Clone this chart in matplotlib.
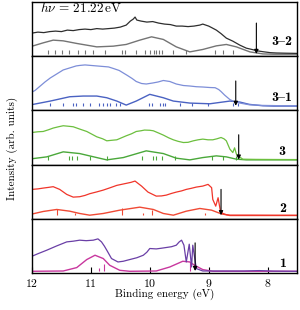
import matplotlib
matplotlib.use("Agg")
import matplotlib.pyplot as plt

plt.rcParams['font.family'] = 'serif'
plt.rcParams['font.serif'] = ['cmr10']
plt.rcParams['mathtext.fontset'] = 'cm'
plt.rcParams['axes.formatter.use_mathtext'] = True

# ---- panel 3-2 ----
e32 = [12.0, 11.9, 11.8, 11.7, 11.6, 11.5, 11.4, 11.3, 11.2, 11.1, 11.0, 10.9, 10.8, 10.7,
       10.6, 10.5, 10.4, 10.33, 10.28, 10.25, 10.22, 10.15, 10.05, 9.95, 9.85, 9.75, 9.65,
       9.55, 9.45, 9.35, 9.25, 9.15, 9.1, 9.0, 8.95, 8.87, 8.79, 8.70, 8.59, 8.47, 8.36,
       8.25, 8.19, 8.08, 7.95, 7.85, 7.7, 7.5]
i32 = [21, 22, 21.5, 22.5, 23, 22.5, 24, 23.5, 24.5, 25, 24.5, 25.5, 25, 25.5, 26, 27, 29,
       33, 35, 37, 34, 33, 32, 32.5, 31, 30, 29.5, 28, 28, 27.5, 28, 29, 30, 28, 26.5, 24,
       20.5, 16, 13, 9, 6, 4.5, 3.5, 2.5, 1.5, 1.2, 1.0, 0.8]
te32 = [12.0, 11.98, 11.81, 11.64, 11.47, 11.24, 10.90, 10.62, 10.40, 10.17, 9.97, 9.77,
        9.55, 9.32, 9.10, 8.87, 8.70, 8.53, 8.30, 8.08, 7.9, 7.5]
ti32 = [8.0, 8.3, 11.3, 14, 13.3, 10.7, 7.3, 8, 9.7, 14, 17.3, 14.7, 7.3, 2.3, 4.7, 8.3,
        9.7, 7.3, 2.3, 0.3, 0, 0]
s32 = [11.72, 11.61, 11.49, 11.37, 11.22, 11.10, 10.96, 10.76, 10.48, 10.42, 10.23, 10.08,
       10.0, 9.93, 9.89, 9.84, 9.80, 9.60, 9.38, 8.90, 8.76, 8.59]
sh32 = 4.0

# ---- panel 3-1 ----
e31 = [12.0, 11.95, 11.86, 11.78, 11.69, 11.58, 11.47, 11.36, 11.25, 11.19, 11.1, 11.0,
       10.90, 10.8, 10.70, 10.62, 10.52, 10.45, 10.38, 10.30, 10.23, 10.14, 10.06, 9.95,
       9.86, 9.77, 9.66, 9.55, 9.43, 9.32, 9.21, 9.10, 8.98, 8.89, 8.83, 8.79, 8.73, 8.64,
       8.55, 8.47, 8.31, 8.1, 7.8, 7.5]
i31 = [14, 15.5, 20, 24, 28, 32, 36, 38, 40, 40.5, 41, 40.5, 40, 39.5, 39, 37.5, 35.5, 33,
       30.5, 27.5, 24.5, 22.5, 22, 23, 24, 25.5, 24.5, 22, 20.5, 20, 19.3, 19, 18.5, 18.3,
       16.5, 14.5, 11, 6.5, 4, 3, 1.3, 0.7, 0.4, 0.3]
te31 = [12.0, 11.98, 11.69, 11.36, 11.13, 10.90, 10.73, 10.56, 10.40, 10.23, 10.0, 9.77,
        9.60, 9.32, 8.98, 8.64, 8.47, 8.31, 8.08, 7.9, 7.5]
ti31 = [1.5, 1.7, 5, 9.3, 10, 10, 8.3, 5, 1, 5, 11.7, 8.3, 5, 3, 2.3, 5, 4, 1.7, 0.3, 0, 0]
s31 = [11.69, 11.47, 11.30, 11.25, 11.13, 11.02, 10.86, 10.79, 10.73, 10.68, 10.58, 10.51,
       10.01, 9.97, 9.83, 9.78, 9.75, 9.49, 9.28, 9.01, 8.59, 8.51]
sh31 = 3.0

# ---- panel 3 ----
e3 = [12.0, 11.9, 11.81, 11.72, 11.64, 11.55, 11.47, 11.38, 11.30, 11.19, 11.07, 10.98,
      10.90, 10.8, 10.73, 10.65, 10.56, 10.48, 10.40, 10.31, 10.23, 10.15, 10.09, 10.0,
      9.94, 9.86, 9.77, 9.68, 9.60, 9.52, 9.43, 9.35, 9.26, 9.18, 9.10, 9.01, 8.93, 8.86,
      8.79, 8.74, 8.70, 8.64, 8.59, 8.56, 8.53, 8.50, 8.42, 8.2, 7.9, 7.5]
i3 = [27.3, 28, 28.3, 30, 31.7, 33, 34, 33.5, 33, 30.7, 28.3, 25.5, 23, 21, 19, 19.5, 20,
      22, 24, 26, 28.3, 29, 29.7, 29.5, 29, 27, 24.7, 22, 20, 18.5, 17.3, 17.5, 19, 20,
      20.7, 20, 20, 21, 22.3, 21, 19, 10.7, 7.3, 12, 6, 4, 0.7, 0.5, 0.4, 0.3]
te3 = [12.0, 11.98, 11.75, 11.47, 11.19, 10.90, 10.73, 10.45, 10.06, 9.77, 9.55, 9.32,
       9.10, 8.87, 8.70, 8.53, 8.36, 7.5]
ti3 = [1.2, 1.3, 3, 8, 6.3, 2.3, 0, 2.3, 9, 6.3, 1.7, 0, 2.3, 4, 3, 0.7, 0, 0]
s3 = [11.72, 11.38, 11.32, 11.24, 11.01, 10.72, 10.13, 9.94, 9.89, 9.80, 9.58, 8.95,
      8.76, 8.53]
sh3 = 3.5

# ---- panel 2 ----
e2 = [12.0, 11.9, 11.81, 11.72, 11.64, 11.53, 11.41, 11.30, 11.19, 11.1, 11.02, 10.9,
      10.79, 10.68, 10.56, 10.48, 10.40, 10.32, 10.25, 10.20, 10.14, 10.03, 9.95, 9.89,
      9.80, 9.72, 9.63, 9.55, 9.46, 9.38, 9.30, 9.21, 9.10, 9.01, 8.95, 8.93, 8.88, 8.84,
      8.80, 8.76, 8.70, 8.64, 8.3, 7.9, 7.5]
i2 = [26, 26.5, 27.3, 28, 28.7, 26, 21, 18.3, 18.7, 20, 21.7, 23.5, 25.3, 27.5, 30, 31, 32,
      33, 34.3, 32, 29.3, 23.3, 21, 19.3, 19.5, 20.3, 22, 23.3, 24.5, 26, 27, 28.3, 29.3,
      31, 27.7, 16, 9.3, 17.7, 4.3, 2, 0.8, 0.3, 0.3, 0.2, 0.2]
te2 = [12.0, 11.98, 11.81, 11.58, 11.36, 11.19, 11.02, 10.79, 10.51, 10.17, 9.94, 9.77,
       9.60, 9.38, 9.15, 8.95, 8.79, 8.64, 7.5]
ti2 = [1.5, 1.7, 4, 6, 4.3, 2, 0.3, 2, 5.3, 8.3, 6, 2, 0.3, 4.3, 7, 5.3, 1.7, 0, 0]
s2 = [11.58, 11.27, 10.48, 10.11, 9.97, 9.07]
sh2 = [6.5, 2.5, 7, 2.5, 5, 2.5]

# ---- panel 1 ----
e1 = [12.0, 11.9, 11.75, 11.58, 11.41, 11.3, 11.19, 11.08, 10.96, 10.88, 10.82, 10.77,
      10.73, 10.65, 10.54, 10.45, 10.34, 10.22, 10.11, 10.05, 10.0, 9.89, 9.80, 9.72, 9.63,
      9.55, 9.50, 9.46, 9.42, 9.38, 9.33, 9.29, 9.27, 9.21, 9.10, 8.8, 8.4, 8.14, 7.9, 7.5]
i1 = [15, 17.5, 21, 25.3, 29.3, 30, 31, 30.5, 31, 32.3, 29.3, 25, 21, 12.7, 9.3, 10, 11.7,
      13.5, 16, 19, 22.7, 22.3, 23, 23.7, 24.5, 26, 29.3, 31, 26, 9.3, 27, 4.3, 26, 2.7,
      0.3, 0.3, 0.3, 0.7, 0.2, 0]
te1 = [12.0, 11.47, 11.24, 11.07, 10.93, 10.79, 10.68, 10.51, 10.34, 9.89, 9.66, 9.44,
       9.32, 9.24, 9.10, 8.93, 7.5]
ti1 = [0, 0.3, 3.7, 11.7, 16, 12.7, 6, 1, 0, 0.3, 4.3, 10, 9.3, 6, 1.7, 0, 0]
s1 = [10.86, 10.77, 9.32]
sh1 = [3.5, 7, 9]

# in the BaKoMa cmb10 font the '{' slot holds the en dash
labels = ['3{2', '3{1', '3', '2', '1']
onsets = [8.19, 8.54, 8.49, 8.79, 9.23]
exp_colors = ['#2e2e2e', '#7d8ed8', '#6cbf3e', '#f0352a', '#6a3fa6']
th_colors = ['#747474', '#4a62c2', '#4aa83a', '#f04a35', '#c8379e']

exp_e = [e32, e31, e3, e2, e1]
exp_i = [i32, i31, i3, i2, i1]
th_e = [te32, te31, te3, te2, te1]
th_i = [ti32, ti31, ti3, ti2, ti1]
sticks = [s32, s31, s3, s2, s1]
stick_h = [sh32, sh31, sh3, sh2, sh1]

ybot = [-2, -4.3, -4.7, -3.3, -1.7]
arrow_top = [31, 25, 25, 26, 28.3]
label_y = [11.7, 8.3, 8, 6.7, 7.7]

fig = plt.figure(figsize=(3.0, 3.1), dpi=100)
axes = fig.subplots(5, 1, sharex=True, gridspec_kw=dict(hspace=0))
fig.subplots_adjust(left=32/300, right=297/300, top=1-2/310, bottom=1-273/310)

for k, ax in enumerate(axes):
    ax.plot(th_e[k], th_i[k], color=th_colors[k], lw=1.0)
    ax.vlines(sticks[k], 0, stick_h[k], color=th_colors[k], lw=0.8)
    ax.plot(exp_e[k], exp_i[k], color=exp_colors[k], lw=0.9)
    ax.annotate('', xy=(onsets[k], 0.3), xytext=(onsets[k], arrow_top[k]),
                arrowprops=dict(arrowstyle='-|>', color='black', lw=0.8,
                                mutation_scale=6, shrinkA=0, shrinkB=0))
    ax.text(7.75, label_y[k], labels[k], ha='center', va='center', fontsize=10,
            family='cmb10')
    ax.set_ylim(ybot[k], ybot[k] + 54)
    ax.set_yticks([])
    for sp in ax.spines.values():
        sp.set_linewidth(1.0)
    ax.tick_params(axis='x', which='both', bottom=False, top=False, labelbottom=False)

axes[0].set_xlim(12, 7.5)
axes[0].text(11.87, 52.5, r'$h\nu\,=\,21.22\,\mathrm{eV}$', ha='left', va='top', fontsize=9.5)

axes[-1].set_xticks([12, 11, 10, 9, 8])
axes[-1].tick_params(axis='x', bottom=True, labelbottom=True, direction='in',
                     length=4, width=0.8, labelsize=8.5, pad=3)
axes[-1].set_xlabel('Binding energy (eV)', fontsize=8, labelpad=0)
fig.text(12/300, 1-148/310, 'Intensity (arb. units)', rotation=90,
         ha='center', va='center', fontsize=8)

fig.savefig('out.png', dpi=100)
